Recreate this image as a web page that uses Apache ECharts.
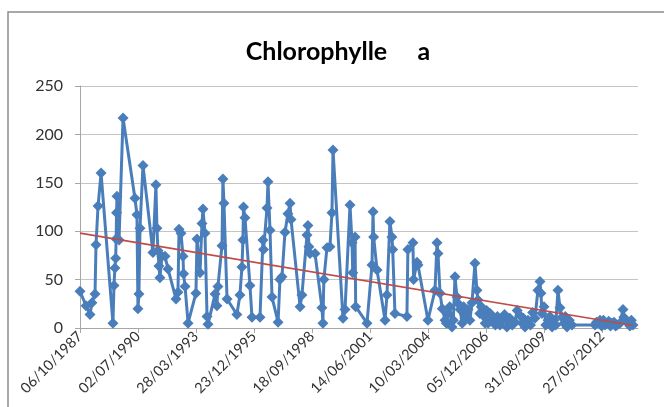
<!DOCTYPE html>
<html><head><meta charset="utf-8">
<script src="https://cdn.jsdelivr.net/npm/echarts@6/dist/echarts.min.js"></script>
<style>html,body{margin:0;padding:0;background:#fff}#c{width:664px;height:407px}</style>
</head><body><div id="c"></div>
<script>
const titleText = 'Chlorophylle     a';
const startDate = '1987-10-06';
const axisEndDate = '2014-02-06';
const tickStepDays = 1000;
const yTicks = [0, 50, 100, 150, 200, 250];

const dates = [
'1987-10-06','1988-01-18','1988-03-26','1988-04-29','1988-06-21','1988-07-08','1988-08-12','1988-10-03',
'1989-04-26','1989-05-14','1989-05-30','1989-06-12','1989-06-20','1989-06-27','1989-07-05','1989-08-09','1989-10-17',
'1990-05-10','1990-06-14','1990-07-01','1990-07-18','1990-08-05','1990-09-26',
'1991-03-16','1991-05-07','1991-05-24','1991-06-11','1991-06-28','1991-07-15','1991-08-19','1991-10-10','1991-12-01',
'1992-04-17','1992-05-21','1992-06-08','1992-07-12','1992-08-16','1992-08-25','1992-09-20','1992-11-11',
'1993-03-27','1993-04-14','1993-06-05','1993-07-09','1993-07-26','1993-08-30','1993-10-04','1993-10-21',
'1994-02-20','1994-03-24','1994-04-10','1994-06-19','1994-07-05','1994-07-23','1994-09-14',
'1995-03-03','1995-04-24','1995-05-29','1995-06-15','1995-06-25','1995-07-20','1995-10-14','1995-11-18',
'1996-04-04','1996-05-25','1996-06-05','1996-08-03','1996-08-20','1996-09-24','1996-10-28',
'1997-02-10','1997-03-14','1997-04-18','1997-06-09','1997-07-30','1997-09-04','1997-09-21',
'1998-02-24','1998-03-28','1998-06-23','1998-07-10','1998-07-27','1998-08-14','1998-11-09',
'1999-03-08','1999-03-25','1999-04-10','1999-06-03','1999-07-24','1999-08-28','1999-09-15',
'2000-03-05','2000-04-09','2000-07-04','2000-08-08','2000-08-20','2000-09-29','2000-10-10',
'2001-04-23','2001-07-18','2001-08-05','2001-08-15','2001-10-13',
'2002-02-28','2002-04-02','2002-05-23','2002-06-27','2002-07-10','2002-08-18',
'2003-03-12','2003-03-29','2003-06-24','2003-07-05','2003-09-02','2003-09-19',
'2004-03-09','2004-07-08','2004-08-12','2004-08-29','2004-10-03','2004-11-10','2004-12-28',
'2005-01-20','2005-02-19','2005-03-20','2005-04-27','2005-05-20','2005-06-18','2005-07-22','2005-08-15','2005-09-13','2005-10-20','2005-11-15','2005-12-07',
'2006-01-28','2006-03-01','2006-04-07','2006-05-28','2006-07-01','2006-07-19','2006-08-20','2006-09-15','2006-10-14','2006-11-20','2006-12-15',
'2007-01-09','2007-02-15','2007-04-03','2007-05-15','2007-06-20','2007-08-02','2007-09-15','2007-10-20','2007-12-01',
'2008-01-20','2008-03-01','2008-04-17','2008-05-25','2008-07-12','2008-08-20','2008-09-10','2008-10-07','2008-11-28',
'2009-01-10','2009-02-15','2009-03-27','2009-05-18','2009-06-22','2009-07-09','2009-07-26','2009-08-30','2009-10-01','2009-11-08','2009-12-10',
'2010-01-16','2010-02-20','2010-03-20','2010-04-28','2010-06-02','2010-07-06','2010-08-10','2010-09-01','2010-10-01','2010-11-10','2010-12-26',
'2012-01-27','2012-02-20','2012-04-22','2012-05-20','2012-06-20','2012-07-17','2012-09-20','2012-10-20','2012-11-15','2012-12-20',
'2013-01-15','2013-02-10','2013-04-01','2013-05-23','2013-06-05','2013-07-10','2013-08-17','2013-09-20','2013-10-15','2013-11-12'
];
const values = [
38,23,14,26,35,86,126,160,
5,44,62,72,92,119,136,91,217,
134,117,20,35,103,168,
78,148,103,80,64,52,74,74,61,
30,37,102,98,74,56,43,5,
36,92,57,108,123,98,12,4,
35,23,43,85,154,129,30,
14,34,63,91,125,114,44,11,
11,91,81,124,151,101,32,
6,50,53,99,118,129,112,
22,34,96,106,84,77,77,
21,5,50,83,84,119,184,
10,19,127,88,57,94,22,
5,65,120,94,60,
8,34,110,94,81,15,
12,81,88,50,68,65,
8,39,88,77,36,20,8,
5,15,22,1,8,53,32,25,19,5,22,10,
19,8,26,67,39,29,15,22,13,5,18,
5,15,10,3,12,3,8,14,1,
10,3,6,18,13,5,10,1,8,
3,16,10,39,48,36,15,22,3,8,12,
1,8,3,39,21,11,5,12,1,8,3,
3,6,8,2,8,3,7,2,5,6,
2,3,5,19,11,8,5,2,8,3
];
const trendDates = ['1987-10-06', '2013-11-12'];
const trendValues = [98, 2.5];

const DAY = 86400000;
const t0 = Date.parse(startDate + 'T00:00:00Z');
const toDays = d => (Date.parse(d + 'T00:00:00Z') - t0) / DAY;
const pad = n => (n < 10 ? '0' : '') + n;
const fmt = v => { const d = new Date(t0 + v * DAY); return pad(d.getUTCDate()) + '/' + pad(d.getUTCMonth() + 1) + '/' + d.getUTCFullYear(); };

const seriesData = dates.map((d, i) => [toDays(d), values[i]]);
const trendData = trendDates.map((d, i) => [toDays(d), trendValues[i]]);

const chart = echarts.init(document.getElementById('c'), null, {renderer: 'canvas'});
chart.setOption({
  animation: false,
  backgroundColor: '#fff',
  graphic: [
    {type: 'rect', shape: {x: 8, y: 12, width: 720, height: 460}, style: {fill: 'none', stroke: '#8c8c8c', lineWidth: 1.5}, z: -1},
    {type: 'text', x: 338, y: 52, style: {text: titleText, fontFamily: 'Lato', fontWeight: 'bold', fontSize: 25, fill: '#000', align: 'center', verticalAlign: 'middle'}}
  ],
  grid: {left: 80, right: 26, top: 86, bottom: 79, containLabel: false},
  xAxis: {
    type: 'value', min: 0, max: toDays(axisEndDate), interval: tickStepDays,
    axisLine: {show: true, lineStyle: {color: '#a6a6a6', width: 1}},
    axisTick: {show: true, length: 5, lineStyle: {color: '#a6a6a6'}},
    splitLine: {show: false},
    axisLabel: {rotate: 45, formatter: fmt, fontFamily: 'Lato', fontSize: 14.5, color: '#333', margin: 6, showMaxLabel: false}
  },
  yAxis: {
    type: 'value', min: yTicks[0], max: yTicks[yTicks.length - 1], interval: yTicks[1] - yTicks[0],
    axisLine: {show: true, lineStyle: {color: '#a6a6a6', width: 1}},
    axisTick: {show: true, length: 5, lineStyle: {color: '#a6a6a6'}},
    splitLine: {show: true, lineStyle: {color: '#c4c4c4', width: 1.2}},
    axisLabel: {fontFamily: 'Lato', fontSize: 16, color: '#333', margin: 17}
  },
  series: [
    {type: 'line', data: seriesData, symbol: 'diamond', symbolSize: 11, showAllSymbol: true,
     lineStyle: {color: '#4a7ebb', width: 3}, itemStyle: {color: '#4a7ebb'}, z: 2},
    {type: 'line', data: trendData, symbol: 'none', lineStyle: {color: '#be4b48', width: 1.6}, z: 3}
  ]
});
</script></body></html>
